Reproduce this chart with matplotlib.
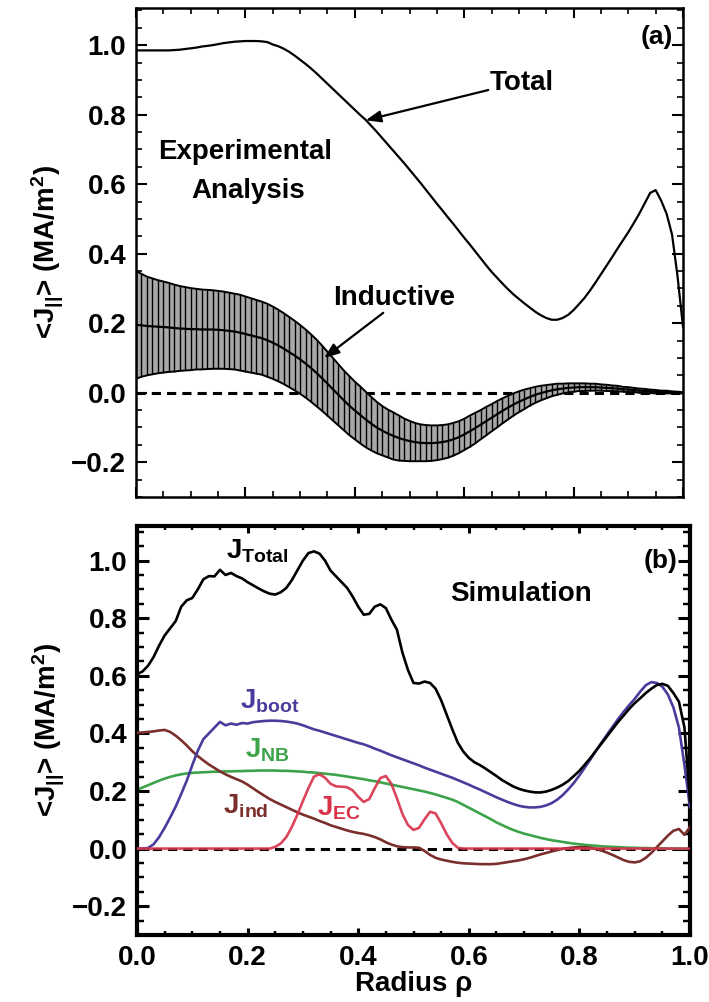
import numpy as np
import matplotlib
matplotlib.use("Agg")
import matplotlib.pyplot as plt
from matplotlib.ticker import MultipleLocator

plt.rcParams['font.family'] = ['Liberation Sans', 'DejaVu Sans']
plt.rcParams['font.weight'] = 'bold'
plt.rcParams['mathtext.fontset'] = 'custom'
plt.rcParams['mathtext.rm'] = 'Liberation Sans:bold'
plt.rcParams['mathtext.it'] = 'Liberation Sans:bold'
plt.rcParams['mathtext.bf'] = 'Liberation Sans:bold'
plt.rcParams['mathtext.sf'] = 'Liberation Sans:bold'
plt.rcParams['mathtext.default'] = 'regular'

# radial grid (normalized radius rho), 0.00 ... 1.00 in steps of 0.01
rho = np.linspace(0.0, 1.0, 101)

# ---- (a) experimental analysis ----
j_total_exp = [
    0.985, 0.985, 0.985, 0.985, 0.985, 0.985, 0.985, 0.986, 0.987, 0.989,
    0.991, 0.993, 0.996, 0.998, 1.000, 1.003, 1.006, 1.008, 1.010, 1.011,
    1.012, 1.012, 1.012, 1.011, 1.009, 1.002, 0.997, 0.990, 0.981, 0.970,
    0.958, 0.946, 0.933, 0.919, 0.904, 0.889, 0.874, 0.859, 0.844, 0.829,
    0.814, 0.799, 0.785, 0.768, 0.751, 0.733, 0.715, 0.697, 0.679, 0.661,
    0.642, 0.623, 0.604, 0.584, 0.564, 0.544, 0.525, 0.505, 0.486, 0.466,
    0.446, 0.427, 0.407, 0.387, 0.367, 0.348, 0.331, 0.314, 0.298, 0.283,
    0.270, 0.257, 0.245, 0.233, 0.223, 0.215, 0.210, 0.210, 0.215, 0.224,
    0.238, 0.255, 0.273, 0.294, 0.317, 0.341, 0.365, 0.389, 0.414, 0.438,
    0.462, 0.488, 0.515, 0.545, 0.575, 0.583, 0.553, 0.515, 0.455, 0.335,
    0.190]

j_ind_exp = [
    0.195, 0.194, 0.192, 0.191, 0.190, 0.189, 0.188, 0.186, 0.185, 0.184,
    0.183, 0.183, 0.182, 0.182, 0.182, 0.181, 0.180, 0.178, 0.176, 0.173,
    0.169, 0.165, 0.161, 0.157, 0.151, 0.144, 0.136, 0.127, 0.117, 0.107,
    0.096, 0.084, 0.071, 0.057, 0.042, 0.026, 0.010, -0.006, -0.022, -0.037,
    -0.051, -0.064, -0.077, -0.089, -0.100, -0.109, -0.117, -0.124, -0.130, -0.135,
    -0.139, -0.142, -0.144, -0.145, -0.145, -0.144, -0.142, -0.139, -0.134, -0.128,
    -0.120, -0.111, -0.102, -0.092, -0.082, -0.072, -0.062, -0.052, -0.043, -0.034,
    -0.026, -0.019, -0.012, -0.006, -0.001, 0.003, 0.007, 0.010, 0.012, 0.014,
    0.015, 0.016, 0.016, 0.016, 0.016, 0.015, 0.014, 0.013, 0.012, 0.010,
    0.009, 0.008, 0.006, 0.005, 0.004, 0.003, 0.002, 0.002, 0.001, 0.001,
    0.000]

j_ind_err = [
    0.155, 0.148, 0.142, 0.138, 0.134, 0.131, 0.128, 0.125, 0.122, 0.120,
    0.118, 0.116, 0.115, 0.114, 0.113, 0.112, 0.111, 0.110, 0.109, 0.109,
    0.108, 0.107, 0.106, 0.105, 0.105, 0.104, 0.103, 0.102, 0.101, 0.100,
    0.099, 0.098, 0.097, 0.096, 0.094, 0.092, 0.090, 0.088, 0.086, 0.085,
    0.083, 0.082, 0.080, 0.077, 0.074, 0.071, 0.069, 0.068, 0.065, 0.061,
    0.058, 0.055, 0.053, 0.052, 0.051, 0.050, 0.049, 0.048, 0.047, 0.046,
    0.045, 0.045, 0.044, 0.042, 0.041, 0.039, 0.038, 0.036, 0.034, 0.032,
    0.030, 0.028, 0.025, 0.023, 0.021, 0.019, 0.017, 0.016, 0.014, 0.013,
    0.012, 0.011, 0.011, 0.010, 0.010, 0.009, 0.009, 0.008, 0.008, 0.007,
    0.007, 0.006, 0.006, 0.006, 0.005, 0.005, 0.004, 0.004, 0.003, 0.002,
    0.002]

# ---- (b) simulation ----
j_total_sim = [
    0.605, 0.615, 0.635, 0.665, 0.705, 0.740, 0.765, 0.790, 0.840, 0.862,
    0.870, 0.900, 0.935, 0.946, 0.945, 0.968, 0.950, 0.957, 0.946, 0.938,
    0.925, 0.914, 0.903, 0.893, 0.885, 0.882, 0.890, 0.905, 0.932, 0.966,
    1.000, 1.026, 1.032, 1.024, 1.000, 0.965, 0.945, 0.925, 0.905, 0.875,
    0.840, 0.812, 0.815, 0.840, 0.848, 0.835, 0.795, 0.760, 0.680, 0.620,
    0.575, 0.573, 0.580, 0.575, 0.555, 0.515, 0.465, 0.415, 0.368, 0.337,
    0.315, 0.300, 0.290, 0.278, 0.265, 0.252, 0.238, 0.227, 0.216, 0.208,
    0.202, 0.198, 0.195, 0.195, 0.198, 0.204, 0.212, 0.222, 0.235, 0.252,
    0.270, 0.292, 0.315, 0.340, 0.365, 0.390, 0.415, 0.440, 0.462, 0.485,
    0.505, 0.522, 0.540, 0.555, 0.568, 0.572, 0.565, 0.540, 0.510, 0.420,
    0.165]

j_boot = [
    0.000, 0.000, 0.002, 0.015, 0.040, 0.072, 0.108, 0.146, 0.190, 0.236,
    0.290, 0.340, 0.380, 0.400, 0.420, 0.440, 0.428, 0.434, 0.430, 0.436,
    0.434, 0.439, 0.441, 0.443, 0.444, 0.444, 0.443, 0.441, 0.438, 0.434,
    0.428, 0.421, 0.414, 0.409, 0.403, 0.397, 0.391, 0.385, 0.379, 0.373,
    0.367, 0.362, 0.355, 0.347, 0.340, 0.332, 0.324, 0.317, 0.310, 0.303,
    0.296, 0.289, 0.281, 0.274, 0.267, 0.260, 0.253, 0.246, 0.238, 0.230,
    0.222, 0.213, 0.205, 0.196, 0.187, 0.178, 0.170, 0.162, 0.155, 0.149,
    0.145, 0.143, 0.143, 0.145, 0.150, 0.158, 0.170, 0.186, 0.206, 0.228,
    0.254, 0.282, 0.310, 0.340, 0.368, 0.396, 0.423, 0.450, 0.475, 0.498,
    0.520, 0.545, 0.567, 0.578, 0.575, 0.562, 0.535, 0.490, 0.420, 0.290,
    0.143]

j_nb = [
    0.204, 0.212, 0.220, 0.228, 0.236, 0.243, 0.249, 0.254, 0.258, 0.261,
    0.263, 0.264, 0.265, 0.266, 0.267, 0.267, 0.268, 0.268, 0.269, 0.269,
    0.270, 0.270, 0.271, 0.271, 0.271, 0.271, 0.270, 0.270, 0.269, 0.268,
    0.267, 0.265, 0.264, 0.262, 0.260, 0.258, 0.256, 0.253, 0.250, 0.247,
    0.244, 0.241, 0.237, 0.234, 0.230, 0.226, 0.222, 0.218, 0.214, 0.210,
    0.206, 0.202, 0.198, 0.193, 0.188, 0.182, 0.176, 0.170, 0.162, 0.152,
    0.142, 0.132, 0.122, 0.112, 0.102, 0.091, 0.082, 0.073, 0.065, 0.058,
    0.052, 0.047, 0.042, 0.037, 0.033, 0.029, 0.026, 0.023, 0.020, 0.017,
    0.015, 0.013, 0.011, 0.010, 0.008, 0.007, 0.006, 0.005, 0.004, 0.003,
    0.003, 0.002, 0.002, 0.001, 0.001, 0.001, 0.000, 0.000, 0.000, 0.000,
    0.000]

j_ind_sim = [
    0.402, 0.403, 0.405, 0.407, 0.410, 0.412, 0.405, 0.392, 0.376, 0.358,
    0.338, 0.321, 0.306, 0.292, 0.280, 0.268, 0.258, 0.249, 0.241, 0.233,
    0.222, 0.209, 0.196, 0.184, 0.172, 0.162, 0.153, 0.144, 0.135, 0.126,
    0.118, 0.111, 0.104, 0.096, 0.089, 0.081, 0.075, 0.069, 0.063, 0.058,
    0.054, 0.051, 0.046, 0.040, 0.032, 0.022, 0.014, 0.008, 0.005, 0.004,
    0.004, 0.003, -0.008, -0.022, -0.032, -0.038, -0.042, -0.046, -0.049, -0.051,
    -0.052, -0.053, -0.054, -0.054, -0.054, -0.053, -0.050, -0.047, -0.044, -0.041,
    -0.037, -0.032, -0.026, -0.020, -0.015, -0.010, -0.005, -0.001, 0.002, 0.004,
    0.005, 0.005, 0.003, -0.001, -0.007, -0.014, -0.022, -0.031, -0.040, -0.046,
    -0.048, -0.044, -0.032, -0.015, 0.005, 0.025, 0.045, 0.062, 0.068, 0.048,
    0.075]

j_ec = [
    0.0, 0.0, 0.0, 0.0, 0.0, 0.0, 0.0, 0.0, 0.0, 0.0,
    0.0, 0.0, 0.0, 0.0, 0.0, 0.0, 0.0, 0.0, 0.0, 0.0,
    0.0, 0.0, 0.0, 0.0, 0.0, 0.006, 0.018, 0.040, 0.075, 0.118,
    0.165, 0.210, 0.250, 0.258, 0.246, 0.225, 0.216, 0.215, 0.213, 0.202,
    0.180, 0.162, 0.172, 0.210, 0.245, 0.252, 0.225, 0.175, 0.120, 0.082,
    0.065, 0.072, 0.102, 0.128, 0.122, 0.088, 0.050, 0.020, 0.003, 0.0,
    0.0, 0.0, 0.0, 0.0, 0.0, 0.0, 0.0, 0.0, 0.0, 0.0,
    0.0, 0.0, 0.0, 0.0, 0.0, 0.0, 0.0, 0.0, 0.0, 0.0,
    0.0, 0.0, 0.0, 0.0, 0.0, 0.0, 0.0, 0.0, 0.0, 0.0,
    0.0, 0.0, 0.0, 0.0, 0.0, 0.0, 0.0, 0.0, 0.0, 0.0,
    0.0]

y_ticks = [-0.2, 0.0, 0.2, 0.4, 0.6, 0.8, 1.0]
x_ticks = [0.0, 0.2, 0.4, 0.6, 0.8, 1.0]

c_boot = '#4a3c9c'
c_nb = '#3ca34a'
c_ind = '#7a2f2c'
c_ec = '#d8324a'

FS = 20
ylabel = r'<J$_{||}$> (MA/m$^2$)'

fig = plt.figure(figsize=(7.09, 10.02), dpi=100)
ax1 = fig.add_axes([136 / 709, 1 - 497 / 1002, 547 / 709, 489 / 1002])
ax2 = fig.add_axes([137 / 709, 1 - 935 / 1002, 553 / 709, 409 / 1002])


def style_axes(ax, spine_w, ymaj, ymin, xmaj, xmin, tw):
    ax.set_xlim(0.0, 1.0)
    ax.set_xticks(x_ticks)
    ax.set_yticks(y_ticks)
    ax.xaxis.set_minor_locator(MultipleLocator(0.05))
    ax.yaxis.set_minor_locator(MultipleLocator(0.05))
    for s in ax.spines.values():
        s.set_linewidth(spine_w)
    ax.tick_params(axis='both', which='both', direction='in',
                   top=True, right=True, labelsize=FS)
    ax.tick_params(axis='y', which='major', length=ymaj, width=tw, pad=7)
    ax.tick_params(axis='y', which='minor', length=ymin, width=tw * 0.8)
    ax.tick_params(axis='x', which='major', length=xmaj, width=tw, pad=7)
    ax.tick_params(axis='x', which='minor', length=xmin, width=tw * 0.8)
    ax.set_yticklabels(['\u22120.2', '0.0', '0.2', '0.4', '0.6', '0.8', '1.0'])
    ax.set_ylabel(ylabel, fontsize=FS, fontweight='bold', labelpad=4)


# ---- panel (a) ----
ax1.set_ylim(-0.3, 1.107)
style_axes(ax1, 1.8, 8, 4.3, 7.5, 4.3, 1.5)
ax1.tick_params(axis='x', labelbottom=False)

ax1.plot([0, 1], [0, 0], color='black', lw=2.2, linestyle=(0, (3, 2)), zorder=1)
ind = np.array(j_ind_exp)
err = np.array(j_ind_err)
ax1.fill_between(rho, ind - err, ind + err, color='#a8a8a8', lw=0, zorder=2)
ax1.vlines(rho, ind - err, ind + err, color='black', lw=1.0, zorder=3)
ax1.plot(rho, ind + err, color='black', lw=1.4, zorder=4)
ax1.plot(rho, ind - err, color='black', lw=1.4, zorder=4)
ax1.plot(rho, ind, color='black', lw=1.6, zorder=5)
ax1.plot(rho, j_total_exp, color='black', lw=1.6, zorder=5)

ax1.text(0.982, 1.023, '(a)', fontsize=FS - 1, ha='right', va='center')
ax1.text(0.706, 0.891, 'Total', fontsize=FS, ha='center', va='center')
ax1.annotate('', xy=(0.42, 0.784), xytext=(0.644, 0.871),
             arrowprops=dict(arrowstyle='-|>,head_length=0.9,head_width=0.35',
                             color='black', lw=1.6, shrinkA=0, shrinkB=0))
ax1.text(0.199, 0.672, 'Experimental', fontsize=FS, ha='center', va='baseline')
ax1.text(0.205, 0.560, 'Analysis', fontsize=FS, ha='center', va='baseline')
ax1.text(0.472, 0.253, 'Inductive', fontsize=FS, ha='center', va='baseline')
ax1.annotate('', xy=(0.344, 0.10), xytext=(0.452, 0.23),
             arrowprops=dict(arrowstyle='-|>,head_length=0.9,head_width=0.35',
                             color='black', lw=1.6, shrinkA=0, shrinkB=0))

# ---- panel (b) ----
ax2.set_ylim(-0.3, 1.12)
style_axes(ax2, 3.0, 8.6, 5.0, 5.0, 2.9, 2.2)
ax2.set_xticklabels(['0.0', '0.2', '0.4', '0.6', '0.8', '1.0'])
ax2.set_xlabel('Radius \u03c1', fontsize=FS, fontweight='bold', labelpad=0)

ax2.plot([0, 1], [0, 0], color='black', lw=2.2, linestyle=(0, (3, 2)), zorder=1)
ax2.plot(rho, j_nb, color=c_nb, lw=1.9, zorder=2)
ax2.plot(rho, j_ind_sim, color=c_ind, lw=1.9, zorder=3)
ax2.plot(rho, j_boot, color=c_boot, lw=1.9, zorder=4)
ax2.plot(rho, j_total_sim, color='black', lw=1.9, zorder=5)
ax2.plot(rho, j_ec, color=c_ec, lw=1.9, alpha=0.9, zorder=6)

ax2.text(0.978, 1.0, '(b)', fontsize=FS - 1, ha='right', va='center')
ax2.text(0.694, 0.861, 'Simulation', fontsize=FS, ha='center', va='baseline')
ax2.text(0.161, 1.007, r'J$_{\rm Total}$', fontsize=FS, ha='left', va='baseline', color='black')
ax2.text(0.186, 0.486, r'J$_{\rm boot}$', fontsize=FS, ha='left', va='baseline', color=c_boot)
ax2.text(0.195, 0.316, r'J$_{\rm NB}$', fontsize=FS, ha='left', va='baseline', color=c_nb)
ax2.text(0.156, 0.122, r'J$_{\rm ind}$', fontsize=FS, ha='left', va='baseline', color=c_ind)
ax2.text(0.325, 0.115, r'J$_{\rm EC}$', fontsize=FS, ha='left', va='baseline', color=c_ec)

fig.savefig('out.png', dpi=100)
